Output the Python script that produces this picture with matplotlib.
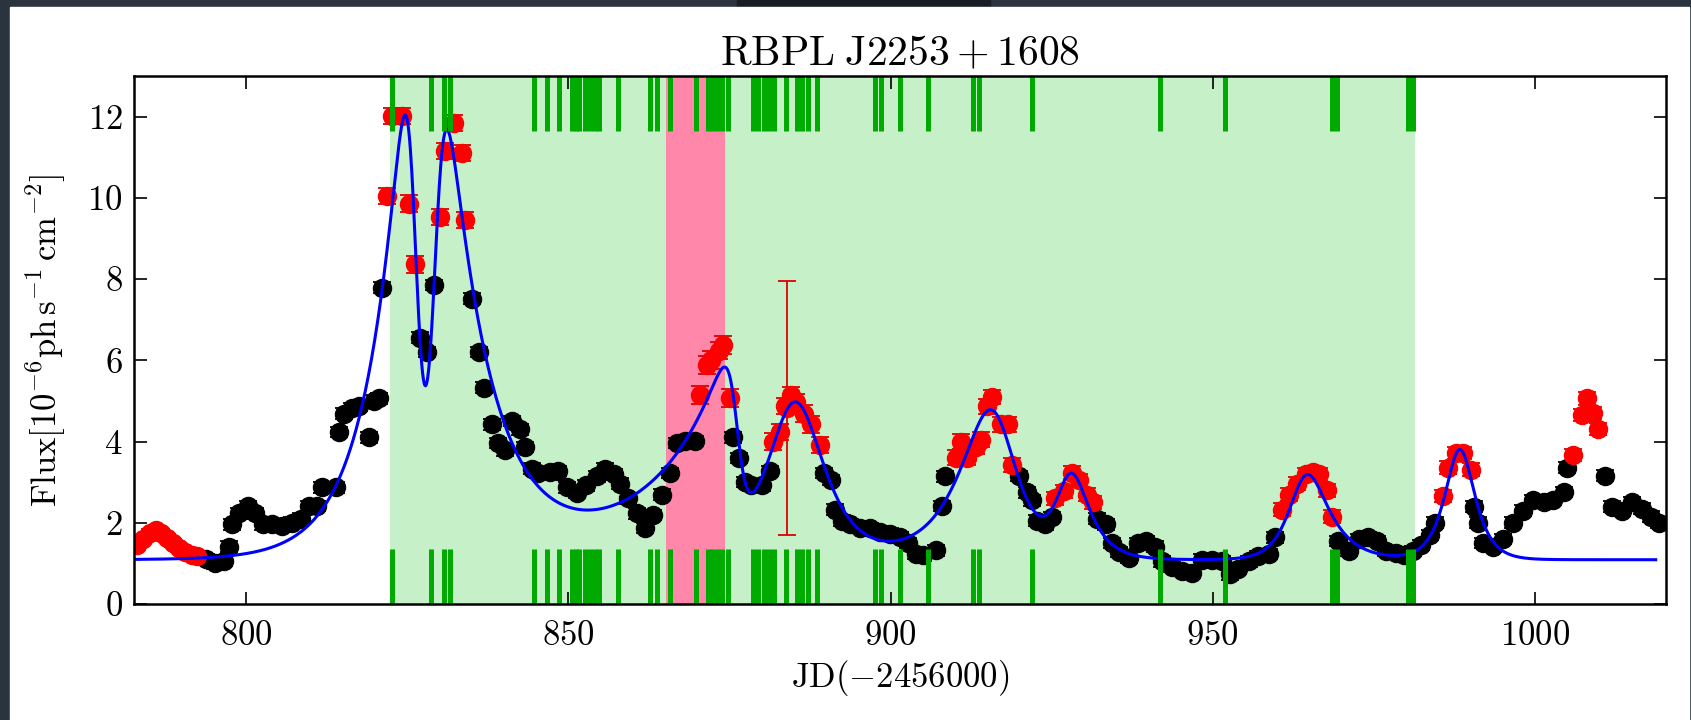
import numpy as np
import matplotlib
matplotlib.use("Agg")
import matplotlib.pyplot as plt
from matplotlib.patches import Rectangle

plt.rcParams['mathtext.fontset'] = 'cm'
plt.rcParams['font.family'] = 'serif'
plt.rcParams['font.serif'] = ['cmr10']
plt.rcParams['axes.formatter.use_mathtext'] = True
plt.rcParams['axes.unicode_minus'] = False

# light curve points (JD - 2456000, flux in 1e-6 ph/s/cm2)
black_jd = [793.7, 795.2, 796.5, 797.3, 797.8, 798.9, 800.2, 801.4, 802.5, 804.0,
            805.6, 807.1, 808.4, 809.7, 811.0, 811.8, 813.9, 814.4, 815.1, 816.4,
            817.5, 819.0, 819.8, 820.6, 821.1,
            827.0, 828.1, 829.1,
            835.1, 836.1, 836.9, 838.2, 839.0, 840.2, 841.3, 842.5, 843.3, 844.3,
            845.3, 847.2, 848.4, 849.7, 851.3, 852.8, 854.4, 855.7, 857.0, 858.0,
            859.3, 860.6, 861.9, 863.2, 864.5, 865.8, 866.8, 868.1, 869.6,
            875.6, 876.4, 877.4, 878.4, 880.0, 881.3,
            889.6, 890.8, 891.4, 892.4, 893.7, 895.2, 896.8, 898.3, 899.9, 901.4,
            902.7, 904.0, 905.0, 907.0, 908.0, 908.5,
            920.0, 921.2, 921.9, 922.8, 924.0, 925.1,
            932.1, 933.4, 934.4, 935.4, 937.0, 938.5, 939.6, 941.1, 942.1, 943.7,
            945.2, 946.8, 948.3, 949.9, 951.4, 952.7, 954.0, 955.6, 957.1, 958.7,
            959.7,
            969.4, 971.2, 972.8, 974.1, 975.6, 976.9, 978.5, 979.8, 981.1, 982.4,
            983.7, 984.5,
            990.6, 991.2, 992.0, 993.6, 995.1, 996.7, 998.2, 999.8, 1001.4, 1002.9,
            1004.5, 1005.0,
            1011.0, 1012.0, 1013.6, 1015.1, 1016.7, 1018.0, 1019.3]
black_flux = [1.10, 1.00, 1.06, 1.41, 1.96, 2.23, 2.41, 2.23, 1.96, 1.96,
              1.91, 2.00, 2.10, 2.41, 2.41, 2.87, 2.87, 4.24, 4.69, 4.83,
              4.87, 4.10, 5.01, 5.06, 7.79,
              6.56, 6.20, 7.85,
              7.52, 6.20, 5.33, 4.42, 3.96, 3.78, 4.51, 4.30, 3.87, 3.33,
              3.23, 3.25, 3.28, 2.87, 2.73, 2.92, 3.14, 3.33, 3.19, 2.96,
              2.60, 2.23, 1.87, 2.19, 2.69, 3.23, 3.96, 4.01, 4.01,
              4.10, 3.60, 3.00, 2.92, 2.92, 3.28,
              3.23, 3.05, 2.32, 2.05, 1.96, 1.87, 1.87, 1.78, 1.73, 1.64,
              1.50, 1.23, 1.20, 1.32, 2.41, 3.14,
              3.15, 2.75, 2.55, 2.05, 1.96, 2.14,
              2.10, 1.96, 1.50, 1.28, 1.14, 1.50, 1.55, 1.41, 1.05, 0.91,
              0.82, 0.77, 1.09, 1.09, 1.05, 0.73, 0.87, 1.05, 1.18, 1.23,
              1.64,
              1.55, 1.30, 1.60, 1.65, 1.55, 1.30, 1.25, 1.20, 1.30, 1.45,
              1.70, 2.00,
              2.40, 2.00, 1.50, 1.40, 1.60, 2.00, 2.30, 2.56, 2.50, 2.56,
              2.76, 3.36,
              3.16, 2.40, 2.30, 2.50, 2.35, 2.15, 2.00]
black_err = 0.13

red_jd = [783.0, 784.0, 785.0, 785.9, 786.8, 787.7, 788.6, 789.5, 790.5, 791.5, 792.3,
          821.9, 822.6, 824.2, 825.2, 826.2,
          830.1, 830.9, 832.2, 833.5, 834.0,
          870.4, 871.5, 872.2, 873.3, 874.0, 875.1,
          881.8, 882.8, 883.6, 884.0, 884.6, 885.4, 886.5, 887.7, 889.0,
          910.1, 910.9, 911.9, 913.2, 914.0, 915.0, 915.8, 917.1, 918.2, 918.9,
          925.6, 926.9, 928.2, 929.2, 930.5, 931.5,
          960.8, 961.8, 963.1, 964.5, 965.6, 966.5, 967.8, 968.6,
          985.8, 986.5, 987.8, 988.9, 990.2,
          1006.0, 1007.3, 1008.1, 1009.1, 1009.9]
red_flux = [1.45, 1.60, 1.75, 1.82, 1.75, 1.62, 1.50, 1.38, 1.28, 1.20, 1.17,
            10.05, 12.01, 12.01, 9.86, 8.36,
            9.52, 11.16, 11.85, 11.10, 9.45,
            5.15, 5.88, 6.01, 6.24, 6.38, 5.07,
            4.00, 4.24, 4.87, 4.82, 5.15, 4.97, 4.69, 4.42, 3.92,
            3.60, 4.00, 3.60, 3.87, 4.05, 4.87, 5.10, 4.42, 4.42, 3.42,
            2.60, 2.78, 3.23, 3.05, 2.69, 2.50,
            2.32, 2.69, 2.96, 3.20, 3.25, 3.20, 2.80, 2.15,
            2.66, 3.36, 3.71, 3.71, 3.31,
            3.66, 4.66, 5.06, 4.71, 4.31]
red_err = [0.10, 0.10, 0.10, 0.10, 0.10, 0.10, 0.10, 0.10, 0.10, 0.10, 0.10,
           0.20, 0.20, 0.20, 0.20, 0.20,
           0.20, 0.20, 0.20, 0.20, 0.20,
           0.22, 0.22, 0.22, 0.22, 0.22, 0.22,
           0.20, 0.20, 0.20, 3.13, 0.20, 0.20, 0.20, 0.20, 0.20,
           0.18, 0.18, 0.18, 0.18, 0.18, 0.18, 0.18, 0.18, 0.18, 0.18,
           0.16, 0.16, 0.16, 0.16, 0.16, 0.16,
           0.16, 0.16, 0.16, 0.16, 0.16, 0.16, 0.16, 0.16,
           0.15, 0.15, 0.15, 0.15, 0.15,
           0.15, 0.15, 0.15, 0.15, 0.15]

# fitted flare model: baseline plus exponential flares
baseline = 1.09
flare_t0 = [826.0, 829.53, 876.03, 885.2, 916.46, 927.76, 964.2, 988.4]
flare_amp = [8.1, 7.6, 2.68, 3.87, 3.57, 1.95, 2.05, 2.71]
flare_rise = [5.5, 0.95, 12.0, 4.0, 5.0, 1.9, 2.2, 2.07]
flare_decay = [0.9, 6.6, 0.8, 4.0, 3.0, 2.8, 3.4, 2.07]
model_start, model_end = 782.7, 1018.8

# neutrino / observation times (green rugs) and highlighted windows
rug_days = [822.6, 828.6, 830.7, 831.6, 844.6, 846.6, 848.6, 850.5, 851.1, 851.7,
            852.5, 853.3, 854.1, 854.7, 857.7, 862.6, 863.7, 865.8, 869.8, 871.7,
            872.3, 873.0, 873.8, 874.7, 878.7, 879.5, 880.3, 881.1, 881.9, 883.8,
            885.5, 886.3, 887.2, 888.6, 897.6, 898.5, 901.5, 905.8, 912.8, 913.8,
            921.9, 941.8, 952.0, 968.6, 969.3, 980.4, 981.1]
green_window = (822.3, 981.5)
pink_window = (865.2, 874.3)

t = np.linspace(model_start, model_end, 2000)
model = np.full_like(t, baseline)
for t0, a, r, d in zip(flare_t0, flare_amp, flare_rise, flare_decay):
    model += 2 * a / (np.exp((t0 - t) / r) + np.exp((t - t0) / d))

fig = plt.figure(figsize=(16.91, 7.2), dpi=100, facecolor='#2b333f')
fig.patches.append(Rectangle((737 / 1691, 1 - 7 / 720), 253 / 1691, 7 / 720,
                             transform=fig.transFigure, color='#181d26', zorder=-2))
fig.patches.append(Rectangle((10 / 1691, 0), 1679 / 1691, 713 / 720,
                             transform=fig.transFigure, color='white', zorder=-1))

ax = fig.add_axes([133.7 / 1691, 116 / 720, 1532.3 / 1691, 528 / 720])
ax.axvspan(*green_window, color='#c6f0c8', lw=0, zorder=0)
ax.axvspan(*pink_window, color='#ff88aa', lw=0, zorder=0.5)

ax.errorbar(black_jd, black_flux, yerr=black_err, fmt='o', color='k', ms=13,
            ecolor='k', elinewidth=1.3, capsize=6.5, capthick=1.3, zorder=3)
ax.errorbar(red_jd, red_flux, yerr=red_err, fmt='o', color='#ff0000', mec='#ff0000',
            ms=13, ecolor='#dd0000', elinewidth=1.3, capsize=6.5, capthick=1.3, zorder=3)
ax.plot(t, model, color='#0000ff', lw=2.2, zorder=4)

for d in rug_days:
    ax.axvline(d, ymin=0, ymax=0.105, color='#00aa00', lw=3.6, solid_capstyle='butt', zorder=5)
    ax.axvline(d, ymin=0.895, ymax=1, color='#00aa00', lw=3.6, solid_capstyle='butt', zorder=5)

ax.set_xlim(782.5, 1020.4)
ax.set_ylim(0, 13)
ax.set_xticks([800, 850, 900, 950, 1000])
ax.set_yticks([0, 2, 4, 6, 8, 10, 12])
ax.tick_params(direction='in', top=True, right=True, length=9, width=1.2, labelsize=25)
ax.tick_params(axis='x', pad=12)
ax.tick_params(axis='y', pad=8)
for s in ax.spines.values():
    s.set_linewidth(1.8)
    s.set_zorder(6)

ax.set_title(r'$\mathrm{RBPL\;J2253+1608}$', fontsize=30, pad=8)
ax.set_xlabel(r'$\mathrm{JD(-2456000)}$', fontsize=25)
ax.set_ylabel(r'$\mathrm{Flux[10^{-6}ph\,s^{-1}\,cm^{-2}]}$', fontsize=25, labelpad=14)

fig.savefig('out.png', dpi=100, facecolor=fig.get_facecolor())
